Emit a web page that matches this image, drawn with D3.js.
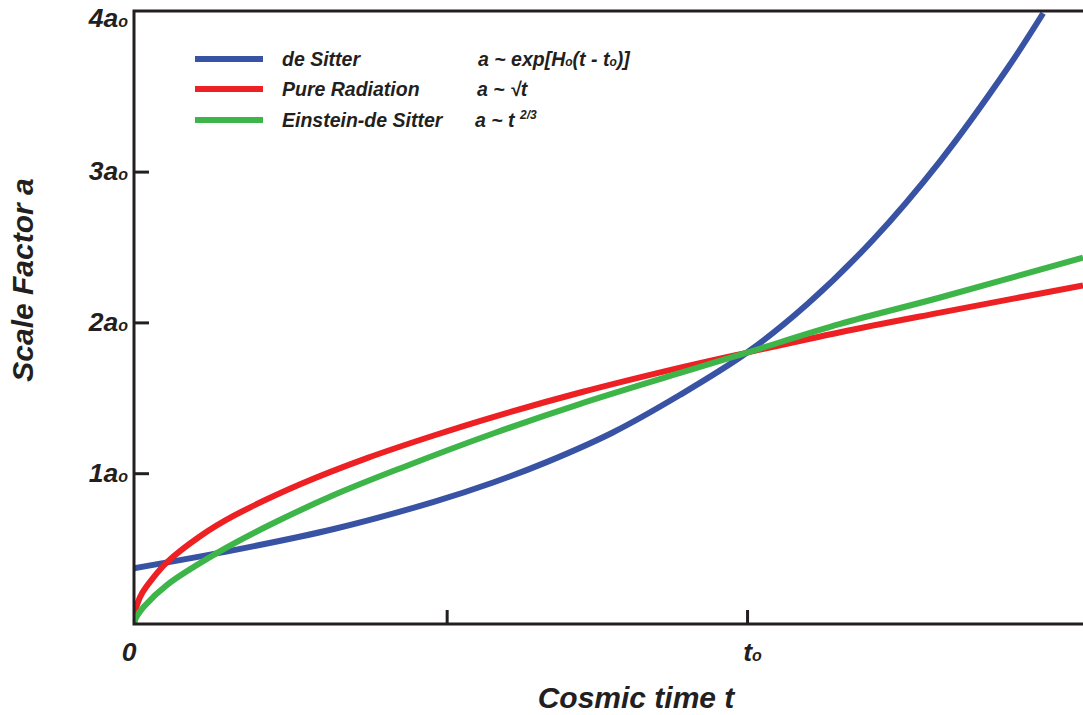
<!DOCTYPE html>
<html>
<head>
<meta charset="utf-8">
<script src="https://cdn.jsdelivr.net/npm/d3@7"></script>
<style>
  html, body { margin: 0; padding: 0; background: #fff; }
  svg { display: block; }
  text { font-family: "Liberation Sans", Arial, Helvetica, sans-serif; font-weight: bold; font-style: italic; fill: #231f20; }
</style>
</head>
<body>
<svg id="chart" width="1083" height="715"></svg>
<script>
// ---- Data (time in units of t0, scale factor in units of a0) ----
const deSitterT   = [0, 0.163, 0.326, 0.489, 0.587, 0.674, 0.781, 0.891, 1.0, 1.098, 1.206, 1.315, 1.424, 1.483];
const deSitterA   = [0.37, 0.49, 0.63, 0.81, 0.94, 1.075, 1.27, 1.52, 1.80, 2.12, 2.55, 3.07, 3.68, 4.05];

const radiationT  = [0, 0.002, 0.006, 0.014, 0.028, 0.054, 0.109, 0.163, 0.272, 0.380, 0.489, 0.587, 0.728, 0.891, 1.0, 1.152, 1.315, 1.548];
const radiationA  = [0, 0.08, 0.14, 0.21, 0.29, 0.41, 0.585, 0.718, 0.928, 1.10, 1.25, 1.374, 1.535, 1.70, 1.80, 1.935, 2.065, 2.245];

const eds_T       = [0, 0.002, 0.006, 0.016, 0.054, 0.135, 0.217, 0.326, 0.436, 0.587, 0.728, 0.891, 1.0, 1.152, 1.315, 1.548];
const eds_A       = [0, 0.029, 0.06, 0.115, 0.26, 0.47, 0.648, 0.855, 1.035, 1.265, 1.46, 1.665, 1.80, 1.99, 2.165, 2.43];

const seriesNames = ["de Sitter", "Pure Radiation", "Einstein-de Sitter"];
const seriesColors = ["#3953a4", "#ed2024", "#3eb549"];

const yTickValues = [1, 2, 3, 4];
const yTickLabels = ["1a", "2a", "3a", "4a"];
const xTickValues = [0.51, 1];
const xTickLabels = ["", "t"];

// ---- Layout ----
const svg = d3.select("#chart");
const x = d3.scaleLinear().domain([0, 1.548]).range([134, 1083]);
const y = d3.scaleLinear().domain([0, 4.065]).range([624, 11]);

const ink = "#231f20";

svg.append("defs").append("clipPath").attr("id", "plotClip")
  .append("rect").attr("x", x(0)).attr("y", y(4.065))
  .attr("width", x(1.548) - x(0)).attr("height", y(0) - y(4.065));

// curves
const line = d3.line().x(d => x(d[0])).y(d => y(d[1])).curve(d3.curveCatmullRom.alpha(0.5));
const series = [
  d3.zip(deSitterT, deSitterA),
  d3.zip(radiationT, radiationA),
  d3.zip(eds_T, eds_A)
];
const curves = svg.append("g").attr("clip-path", "url(#plotClip)");
series.forEach((pts, i) => {
  curves.append("path")
    .attr("d", line(pts))
    .attr("fill", "none")
    .attr("stroke", seriesColors[i])
    .attr("stroke-width", 6)
    .attr("stroke-linejoin", "round");
});

// frame (left, top, bottom)
svg.append("path")
  .attr("d", `M${x(1.548)},${y(4.065)}H${x(0)}V${y(0)}H${x(1.548)}`)
  .attr("fill", "none").attr("stroke", ink).attr("stroke-width", 3);

// y axis
const yAxis = d3.axisLeft(y).tickValues(yTickValues).tickSizeInner(-15).tickSizeOuter(0).tickPadding(6).tickFormat(() => "");
const gy = svg.append("g").attr("transform", `translate(${x(0)},0)`).call(yAxis);
gy.select(".domain").remove();
gy.selectAll(".tick line").attr("stroke", ink).attr("stroke-width", 3)
  .filter(d => d === 4).remove();
gy.selectAll(".tick text").each(function(d, i) {
  const t = d3.select(this);
  t.attr("font-size", 26.5).attr("dy", d === 4 ? "6" : "8").attr("x", -6).attr("fill", ink)
    .style("font-family", "\"Liberation Sans\", Arial, sans-serif").style("font-weight", "bold").style("font-style", "italic");
  t.append("tspan").text(yTickLabels[i]);
  t.append("tspan").attr("font-size", 16).text("o");
});

// x axis
const xAxis = d3.axisBottom(x).tickValues(xTickValues).tickSizeInner(-14).tickSizeOuter(0).tickFormat(() => "");
const gx = svg.append("g").attr("transform", `translate(0,${y(0)})`).call(xAxis);
gx.select(".domain").remove();
gx.selectAll(".tick line").attr("stroke", ink).attr("stroke-width", 3);
gx.selectAll(".tick text").each(function(d, i) {
  const t = d3.select(this);
  t.attr("y", 37).attr("dy", 0).attr("x", 5).attr("font-size", 26.5).attr("fill", ink)
    .style("font-family", "\"Liberation Sans\", Arial, sans-serif").style("font-weight", "bold").style("font-style", "italic");
  if (xTickLabels[i]) {
    t.append("tspan").text(xTickLabels[i]);
    t.append("tspan").attr("font-size", 16).text("o");
  }
});
svg.append("text").attr("x", x(0) - 5).attr("y", y(0) + 37)
  .attr("text-anchor", "middle").attr("font-size", 26.5).text("0");

// axis titles
svg.append("text").attr("x", 636).attr("y", 708).attr("text-anchor", "middle")
  .attr("font-size", 30).text("Cosmic time t");
svg.append("text").attr("transform", "translate(33,280) rotate(-90)")
  .attr("text-anchor", "middle").attr("font-size", 30).text("Scale Factor a");

// legend
const legendY = [59, 89, 120];
const lg = svg.append("g");
seriesNames.forEach((name, i) => {
  lg.append("line").attr("x1", 195).attr("x2", 263).attr("y1", legendY[i]).attr("y2", legendY[i])
    .attr("stroke", seriesColors[i]).attr("stroke-width", 6);
  lg.append("text").attr("x", 282).attr("y", legendY[i] + 7).attr("font-size", 19.5).text(name);
});
// formulas
const f1 = lg.append("text").attr("x", 478).attr("y", legendY[0] + 7).attr("font-size", 19.5);
f1.append("tspan").text("a ~ exp[H");
f1.append("tspan").attr("font-size", 12).text("o");
f1.append("tspan").text("(t - t");
f1.append("tspan").attr("font-size", 12).text("o");
f1.append("tspan").text(")]");

const f2 = lg.append("text").attr("x", 477).attr("y", legendY[1] + 7).attr("font-size", 19.5);
f2.append("tspan").text("a ~ \u221At");

const f3 = lg.append("text").attr("x", 475).attr("y", legendY[2] + 7).attr("font-size", 19.5);
f3.append("tspan").text("a ~ t ");
f3.append("tspan").attr("font-size", 12).attr("dy", -8).text("2/3");
</script>
</body>
</html>
